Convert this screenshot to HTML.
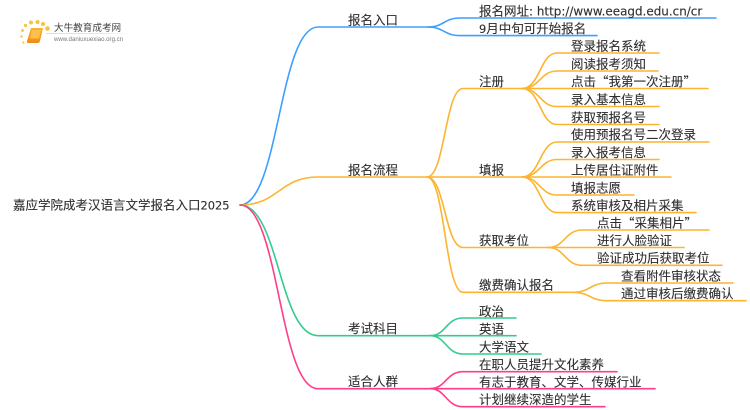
<!DOCTYPE html>
<html lang="zh"><head><meta charset="utf-8"><title>嘉应学院成考汉语言文学报名入口2025</title>
<style>
html,body{margin:0;padding:0;background:#fff;width:750px;height:410px;overflow:hidden}
svg{display:block;filter:blur(.35px)}
text{font-family:"Noto Sans CJK SC","DejaVu Sans",sans-serif;font-size:12.5px;fill:#2e2e2e;stroke:#2e2e2e;stroke-width:.12}
.t{font-family:"DejaVu Sans",sans-serif;font-size:11.4px}
.u{font-family:"DejaVu Sans",sans-serif;font-size:11.95px}
.l{fill:none;stroke-width:1.6;stroke-linecap:round}
.b{stroke:#3d9fff}.o{stroke:#fdb42f}.g{stroke:#33cc8e}.p{stroke:#ff3d8b}
</style></head><body>
<svg width="750" height="410" viewBox="0 0 750 410" xmlns="http://www.w3.org/2000/svg">
<defs>
<linearGradient id="bk" x1="0" y1="0" x2="0" y2="1"><stop offset="0" stop-color="#fbb42c"/><stop offset="1" stop-color="#f08a10"/></linearGradient>
<linearGradient id="ln" x1="0" y1="0" x2="1" y2="0"><stop offset="0" stop-color="#ddd"/><stop offset=".6" stop-color="#e6e6e6"/><stop offset="1" stop-color="#fff"/></linearGradient>
</defs>
<!-- logo -->
<g fill="#f9c23c">
<circle cx="25.5" cy="25.5" r="1.6"/><circle cx="31" cy="22.5" r="2"/><circle cx="37.5" cy="22" r="2"/><circle cx="43" cy="24" r="2"/><circle cx="47.5" cy="28.5" r="2.3"/>
<circle cx="22.5" cy="30.5" r="1.4"/><circle cx="21.5" cy="36.5" r="1.2"/><circle cx="23.5" cy="42.5" r="1.1"/>
</g>
<path d="M31,28 L43,28 L40,41 Q39.5,43 37.5,43 L28.5,43 Q26.5,43 27,41 Z" fill="url(#bk)"/>
<path d="M32,30 L41,30 L39,38.5 L30,38.5 Z" fill="#fdc04e"/>
<text x="54" y="31" style="font-size:9.6px;fill:#444;stroke:none">大牛教育成考网</text>
<rect x="46" y="33" width="88" height="1" fill="url(#ln)"/>
<text x="54" y="41" style="font-size:6.1px;fill:#777;stroke:none;font-family:'Liberation Sans',sans-serif">www.daniuxuexiao.org.cn</text>

<!-- level 1 -->
<path class="l b" d="M240,205 C279,205 279,27 318,27 L428,27"/>
<path class="l o" d="M240,205 C279,205 279,177 318,177 L427,177"/>
<path class="l g" d="M240,205 C279,205 279,335.7 318,335.7 L430,335.7"/>
<path class="l p" d="M240,205 C279,205 279,388.7 318,388.7 L430,388.7"/>

<!-- blue children -->
<path class="l b" d="M428,27 C444,27 444,18 460,18 L716,18"/>
<path class="l b" d="M428,27 C444,27 444,35.6 460,35.6 L597,35.6"/>

<!-- orange level 2 -->
<path class="l o" d="M427,177 C445,177 445,88.5 463,88.5 L522,88.5"/>
<path class="l o" d="M427,177 L522,177"/>
<path class="l o" d="M427,177 C445,177 445,247.5 463,247.5 L548,247.5"/>
<path class="l o" d="M427,177 C445,177 445,292.3 463,292.3 L573,292.3"/>

<!-- 注册 -->
<path class="l o" d="M522,88.5 C540,88.5 540,53 557,53 L659,53"/>
<path class="l o" d="M522,88.5 C540,88.5 540,71 557,71 L658,71"/>
<path class="l o" d="M522,88.5 L708,88.5"/>
<path class="l o" d="M522,88.5 C540,88.5 540,106.5 557,106.5 L659,106.5"/>
<path class="l o" d="M522,88.5 C540,88.5 540,124.5 557,124.5 L659,124.5"/>
<!-- 填报 -->
<path class="l o" d="M522,177 C540,177 540,142 557,142 L709,142"/>
<path class="l o" d="M522,177 C540,177 540,159.5 557,159.5 L659,159.5"/>
<path class="l o" d="M522,177 L671,177"/>
<path class="l o" d="M522,177 C540,177 540,195 557,195 L634,195"/>
<path class="l o" d="M522,177 C540,177 540,212.6 557,212.6 L696,212.6"/>
<!-- 获取考位 -->
<path class="l o" d="M548,247.5 C565,247.5 565,230 582,230 L709,230"/>
<path class="l o" d="M548,247.5 L684,247.5"/>
<path class="l o" d="M548,247.5 C565,247.5 565,265.3 582,265.3 L722,265.3"/>
<!-- 缴费 -->
<path class="l o" d="M573,292.3 C590,292.3 590,283 607,283 L733,283"/>
<path class="l o" d="M573,292.3 C590,292.3 590,300.7 607,300.7 L746,300.7"/>

<!-- green -->
<path class="l g" d="M430,335.7 C446,335.7 446,318 463,318 L516,318"/>
<path class="l g" d="M430,335.7 L516,335.7"/>
<path class="l g" d="M430,335.7 C446,335.7 446,354 463,354 L541,354"/>
<!-- pink -->
<path class="l p" d="M430,388.7 C446,388.7 446,371.7 463,371.7 L617,371.7"/>
<path class="l p" d="M430,388.7 L655,388.7"/>
<path class="l p" d="M430,388.7 C446,388.7 446,406.7 463,406.7 L605,406.7"/>

<!-- text -->
<text x="13" y="209.5">嘉应学院成考汉语言文学报名入口<tspan class="t">2025</tspan></text>
<text x="348" y="24.5">报名入口</text>
<text x="348" y="174.5">报名流程</text>
<text x="348" y="333">考试科目</text>
<text x="348" y="386">适合人群</text>

<text x="479" y="15.5">报名网址<tspan class="u">: http://www.eeagd.edu.cn/cr</tspan></text>
<text x="479" y="33"><tspan class="t">9</tspan>月中旬可开始报名</text>

<text x="479" y="86">注册</text>
<text x="479" y="174.5">填报</text>
<text x="479" y="245">获取考位</text>
<text x="479" y="289.5">缴费确认报名</text>

<text x="571" y="50.5">登录报名系统</text>
<text x="571" y="68.5">阅读报考须知</text>
<text x="571" y="86">点击“我第一次注册”</text>
<text x="571" y="104">录入基本信息</text>
<text x="571" y="122">获取预报名号</text>

<text x="571" y="139">使用预报名号二次登录</text>
<text x="571" y="157">录入报考信息</text>
<text x="571" y="174.5">上传居住证附件</text>
<text x="571" y="192.5">填报志愿</text>
<text x="571" y="210">系统审核及相片采集</text>

<text x="597" y="227.5">点击“采集相片”</text>
<text x="597" y="245">进行人脸验证</text>
<text x="597" y="262.5">验证成功后获取考位</text>

<text x="621" y="280.5">查看附件审核状态</text>
<text x="621" y="298">通过审核后缴费确认</text>

<text x="479" y="316">政治</text>
<text x="479" y="333.5">英语</text>
<text x="479" y="351.5">大学语文</text>

<text x="479" y="369">在职人员提升文化素养</text>
<text x="479" y="386.5">有志于教育、文学、传媒行业</text>
<text x="479" y="404">计划继续深造的学生</text>
</svg>
</body></html>
